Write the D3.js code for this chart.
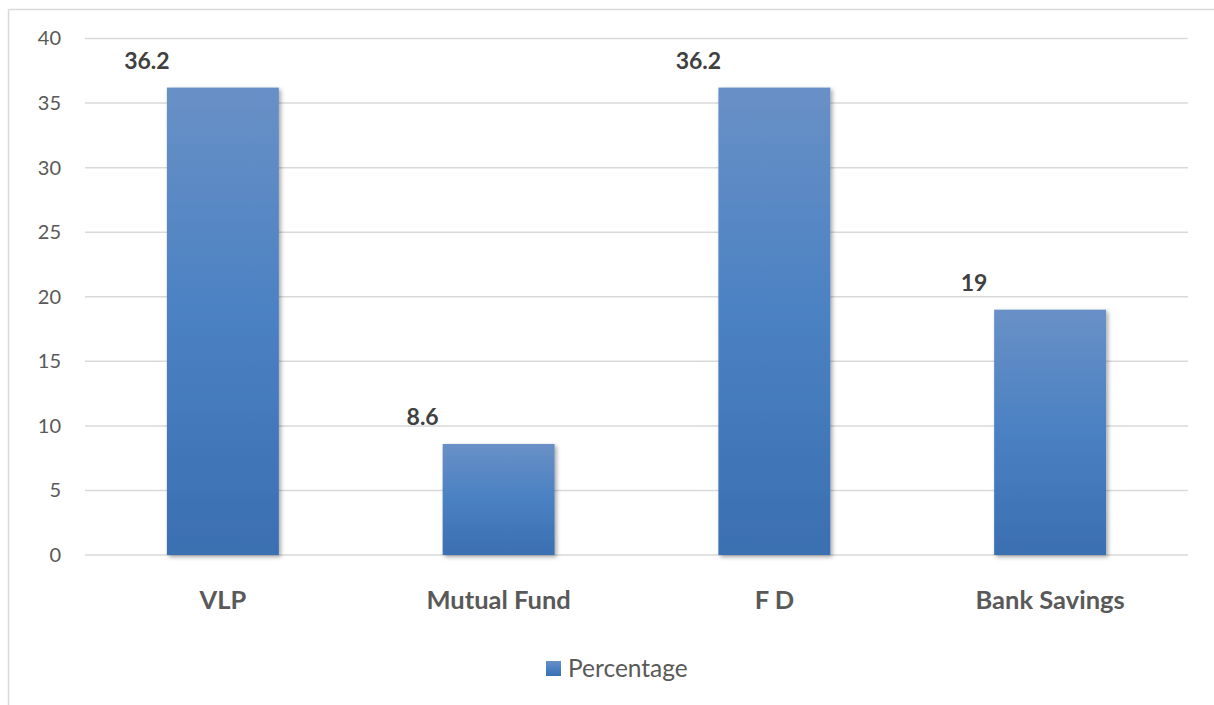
<!DOCTYPE html>
<html>
<head>
<meta charset="utf-8">
<script src="https://cdn.jsdelivr.net/npm/d3@7"></script>
<style>
  html, body { margin: 0; padding: 0; background: #fff; }
  svg { display: block; }
</style>
</head>
<body>
<svg id="chart" width="1214" height="705"></svg>
<script>
// Investment preference shares (%)
const categories = ["VLP", "Mutual Fund", "F D", "Bank Savings"];
const percentage = [36.2, 8.6, 36.2, 19];
const yTicks = [0, 5, 10, 15, 20, 25, 30, 35, 40];
const seriesName = "Percentage";

const W = 1214, H = 705;
const plot = { left: 85, right: 1188, top: 38.5, bottom: 555 };
const font = "Lato, 'Open Sans', sans-serif";

const svg = d3.select("#chart");

const defs = svg.append("defs");
const grad = defs.append("linearGradient")
  .attr("id", "barGrad").attr("x1", 0).attr("y1", 0).attr("x2", 0).attr("y2", 1);
grad.append("stop").attr("offset", "0%").attr("stop-color", "#6990c6");
grad.append("stop").attr("offset", "50%").attr("stop-color", "#4a81c3");
grad.append("stop").attr("offset", "100%").attr("stop-color", "#3a6fb1");

const shadow = defs.append("filter").attr("id", "barShadow")
  .attr("x", "-10%").attr("y", "-10%").attr("width", "130%").attr("height", "130%");
shadow.append("feDropShadow").attr("dx", 2).attr("dy", 2).attr("stdDeviation", 2)
  .attr("flood-color", "#000").attr("flood-opacity", 0.35);

// Chart frame (top and left edges visible)
svg.append("line").attr("x1", 8.5).attr("x2", W).attr("y1", 9.5).attr("y2", 9.5)
  .attr("stroke", "#d9d9d9").attr("stroke-width", 1.5);
svg.append("line").attr("x1", 8.5).attr("x2", 8.5).attr("y1", 9.5).attr("y2", H)
  .attr("stroke", "#d9d9d9").attr("stroke-width", 1.5);

const x = d3.scaleBand().domain(categories).range([plot.left, plot.right])
  .paddingInner(0.594).paddingOuter(0.297);
const y = d3.scaleLinear().domain([0, 40]).range([plot.bottom, plot.top]);

// Horizontal gridlines
svg.append("g").selectAll("line").data(yTicks).join("line")
  .attr("x1", plot.left).attr("x2", plot.right)
  .attr("y1", d => y(d)).attr("y2", d => y(d))
  .attr("stroke", "#d9d9d9").attr("stroke-width", 1.5);

// Y axis labels
const yAxis = d3.axisLeft(y).tickValues(yTicks).tickSize(0).tickPadding(0);
const yg = svg.append("g").attr("transform", "translate(61,0)").call(yAxis);
yg.select(".domain").remove();
yg.selectAll("text").attr("font-family", font).attr("font-size", 20)
  .attr("fill", "#595959");

// Bars
svg.append("g").selectAll("rect").data(percentage).join("rect")
  .attr("x", (d, i) => x(categories[i]))
  .attr("width", x.bandwidth())
  .attr("y", d => y(d))
  .attr("height", d => y(0) - y(d))
  .attr("fill", "url(#barGrad)")
  .attr("filter", "url(#barShadow)");

// Value labels
svg.append("g").selectAll("text").data(percentage).join("text")
  .attr("x", (d, i) => x(categories[i]) + x.bandwidth() / 2 - 76)
  .attr("y", d => y(d) - 19)
  .attr("text-anchor", "middle")
  .attr("font-family", font).attr("font-weight", "bold").attr("font-size", 23)
  .attr("fill", "#404040")
  .text(d => d);

// Category labels
const xAxis = d3.axisBottom(x).tickSize(0).tickPadding(0);
const xg = svg.append("g").attr("transform", "translate(0,609)").call(xAxis);
xg.select(".domain").remove();
xg.selectAll("text").attr("font-family", font).attr("font-weight", "bold")
  .attr("font-size", 25.5).attr("fill", "#595959").attr("dy", 0);

// Legend
const lg = svg.append("g").attr("transform", "translate(546,661)");
lg.append("rect").attr("width", 15).attr("height", 15).attr("fill", "url(#barGrad)");
lg.append("text").attr("x", 22).attr("y", 16)
  .attr("font-family", font).attr("font-size", 24.5).attr("fill", "#595959")
  .text(seriesName);
</script>
</body>
</html>
